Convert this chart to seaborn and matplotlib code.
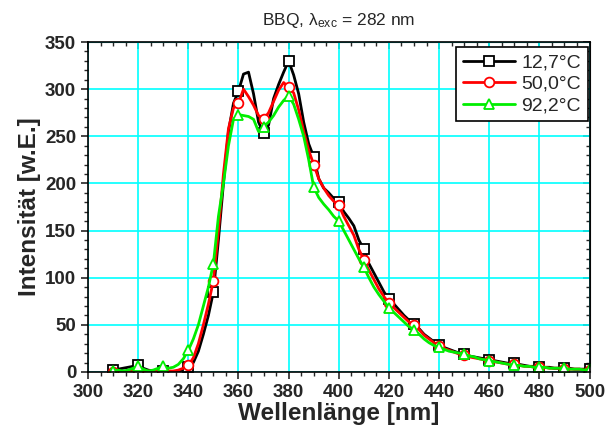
import numpy as np
import pandas as pd
import seaborn as sns
import matplotlib.pyplot as plt
from matplotlib.ticker import MultipleLocator

# wavelength grid (nm), every 2 nm from 310 to 500
wellenlaenge = list(range(310, 502, 2))

# one row = 20 nm (10 points)
int_127 = [2, 3, 4, 5, 6, 7, 4, 2, 1, 1,              # 310-328
           1, 0, 0, 1, 2, 5, 10, 22, 40, 60,          # 330-348
           85, 140, 200, 255, 285, 298, 316, 318, 295, 265,   # 350-368
           253, 262, 290, 305, 318, 330, 315, 295, 265, 242,  # 370-388
           228, 205, 195, 190, 184, 180, 170, 163, 155, 140,  # 390-408
           130, 115, 105, 95, 85, 77, 72, 66, 60, 55,          # 410-428
           51, 46, 40, 36, 32, 29, 26, 24, 22, 20,             # 430-448
           19, 17, 16, 15, 14, 13, 12, 11, 10, 9,              # 450-468
           9, 8, 7, 6, 6, 5, 5, 5, 4, 4,                       # 470-488
           4, 4, 3, 3, 3, 3]                                   # 490-500

int_500 = [0, 0, 0, 1, 1, 1, 1, 1, 1, 1,
           1, 1, 1, 2, 4, 7, 15, 30, 50, 72,
           97, 150, 210, 258, 280, 285, 300, 292, 283, 272,
           268, 275, 287, 299, 307, 302, 296, 278, 255, 235,
           220, 205, 195, 187, 181, 177, 165, 155, 145, 130,
           119, 108, 98, 88, 80, 73, 68, 63, 58, 53,
           50, 45, 39, 35, 31, 28, 25, 23, 21, 19,
           18, 16, 15, 14, 13, 12, 11, 10, 9, 8,
           8, 7, 6, 6, 5, 5, 5, 4, 4, 4,
           3, 3, 3, 3, 2, 2]

int_922 = [1, 2, 1, 2, 4, 6, 3, 1, 2, 4,
           6, 4, 5, 8, 14, 23, 35, 50, 70, 90,
           115, 165, 200, 240, 268, 273, 272, 271, 268, 255,
           260, 265, 272, 281, 288, 293, 284, 268, 250, 225,
           196, 185, 178, 172, 165, 160, 150, 140, 130, 120,
           111, 100, 90, 82, 75, 68, 63, 58, 53, 48,
           45, 40, 35, 31, 28, 26, 24, 22, 21, 20,
           19, 17, 16, 14, 13, 12, 11, 10, 9, 8,
           7, 7, 6, 6, 5, 5, 5, 4, 4, 4,
           4, 3, 3, 3, 2, 3]

serien = [("12,7°C", int_127, "black", "s"),
          ("50,0°C", int_500, "red", "o"),
          ("92,2°C", int_922, "#00ee00", "^")]

sns.set_style("ticks")
plt.rcParams['font.family'] = ['Liberation Sans', 'DejaVu Sans']
plt.rcParams['mathtext.default'] = 'regular'

fig = plt.figure(figsize=(6.05, 4.34), dpi=100)
ax = fig.add_axes([0.1455, 0.1429, 0.829, 0.7603])
ax.set_axisbelow(True)

for name, werte, farbe, marker in serien:
    df = pd.DataFrame({"nm": wellenlaenge, "I": werte})
    sns.lineplot(data=df, x="nm", y="I", ax=ax, color=farbe, lw=2, label=name,
                 marker=marker, markevery=5, markersize=7, mfc="white",
                 mec=farbe, mew=1.3)

ax.set_xlim(300, 500)
ax.set_ylim(0, 350)
ax.xaxis.set_major_locator(MultipleLocator(20))
ax.xaxis.set_minor_locator(MultipleLocator(5))
ax.yaxis.set_major_locator(MultipleLocator(50))
ax.yaxis.set_minor_locator(MultipleLocator(10))
ax.grid(True, which="major", color="#00ffff", lw=1.2)
ax.tick_params(which="major", direction="out", length=5, width=1.2, labelsize=13.5)
ax.tick_params(which="minor", direction="out", length=3, width=1)
for lab in ax.get_xticklabels() + ax.get_yticklabels():
    lab.set_fontweight("bold")
for s in ax.spines.values():
    s.set_linewidth(1.2)
    s.set_color("black")

# inward ticks on top and right
top = ax.secondary_xaxis("top")
top.xaxis.set_major_locator(MultipleLocator(20))
top.xaxis.set_minor_locator(MultipleLocator(5))
top.tick_params(which="both", direction="in", labeltop=False)
top.tick_params(which="major", length=5, width=1.2)
top.tick_params(which="minor", length=3, width=1)
right = ax.secondary_yaxis("right")
right.yaxis.set_major_locator(MultipleLocator(50))
right.yaxis.set_minor_locator(MultipleLocator(10))
right.tick_params(which="both", direction="in", labelright=False)
right.tick_params(which="major", length=5, width=1.2)
right.tick_params(which="minor", length=3, width=1)

ax.set_xlabel("Wellenlänge [nm]", fontsize=17.5, fontweight="bold", labelpad=1)
ax.set_ylabel("Intensität [w.E.]", fontsize=17.5, fontweight="bold", labelpad=3)
ax.set_title("BBQ, λ$_{exc}$ = 282 nm", fontsize=12.5, pad=12)

leg = ax.legend(loc="upper right", bbox_to_anchor=(0.996, 0.985), fontsize=14,
                frameon=True, fancybox=False, handlelength=2.7,
                handletextpad=0.3, borderpad=0.35, labelspacing=0.2,
                borderaxespad=0)
leg.get_frame().set_edgecolor("black")
leg.get_frame().set_linewidth(1.2)
leg.get_frame().set_alpha(1)

fig.savefig("out.png", dpi=100)
